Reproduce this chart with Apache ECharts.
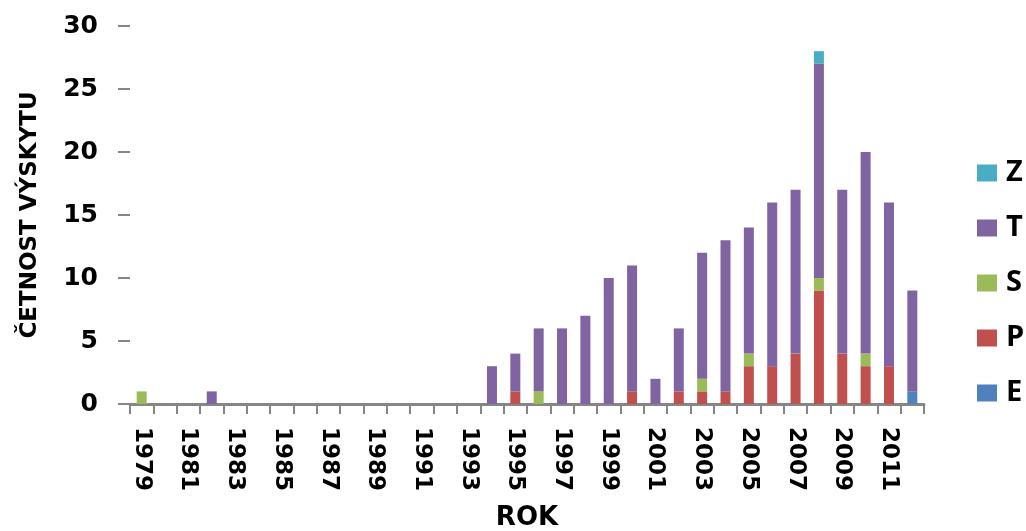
<!DOCTYPE html>
<html>
<head>
<meta charset="utf-8">
<script src="https://cdn.jsdelivr.net/npm/echarts@6/dist/echarts.min.js"></script>
<style>
  html, body { margin: 0; padding: 0; background: #fff; overflow: hidden; }
  #chart { width: 1026px; height: 531px; }
</style>
</head>
<body>
<div id="chart"></div>
<script>
// Years 1979–2012
const years = [
  '1979','1980','1981','1982','1983','1984','1985','1986','1987','1988',
  '1989','1990','1991','1992','1993','1994','1995','1996','1997','1998',
  '1999','2000','2001','2002','2003','2004','2005','2006','2007','2008',
  '2009','2010','2011','2012'
];

// Counts per category, stacked bottom to top: E, P, S, T, Z
const valuesE = [0,0,0,0,0,0,0,0,0,0, 0,0,0,0,0,0,0,0,0,0, 0,0,0,0,0,0,0,0,0,0, 0,0,0,1];
const valuesP = [0,0,0,0,0,0,0,0,0,0, 0,0,0,0,0,0,1,0,0,0, 0,1,0,1,1,1,3,3,4,9, 4,3,3,0];
const valuesS = [1,0,0,0,0,0,0,0,0,0, 0,0,0,0,0,0,0,1,0,0, 0,0,0,0,1,0,1,0,0,1, 0,1,0,0];
const valuesT = [0,0,0,1,0,0,0,0,0,0, 0,0,0,0,0,3,3,5,6,7, 10,10,2,5,10,12,10,13,13,17, 13,16,13,8];
const valuesZ = [0,0,0,0,0,0,0,0,0,0, 0,0,0,0,0,0,0,0,0,0, 0,0,0,0,0,0,0,0,0,1, 0,0,0,0];

const legendOrder = ['Z', 'T', 'S', 'P', 'E'];
const yTicks = { min: 0, max: 30, interval: 5 };

const colors = { E: '#4F81BD', P: '#C0504D', S: '#9BBB59', T: '#8064A2', Z: '#4BACC6' };
const seriesData = { E: valuesE, P: valuesP, S: valuesS, T: valuesT, Z: valuesZ };

const chart = echarts.init(document.getElementById('chart'), null, { renderer: 'canvas' });

const font = 'DejaVu Sans';
const axisGray = '#868686';

chart.setOption({
  animation: false,
  backgroundColor: '#ffffff',
  grid: {
    left: 130, right: 102, top: 26, bottom: 127,
    containLabel: false,
    outerBoundsMode: 'none'
  },
  legend: {
    orient: 'vertical',
    left: 972,
    top: 153,
    itemWidth: 20,
    itemHeight: 17,
    itemGap: 25,
    itemStyle: { borderWidth: 0 },
    icon: 'rect',
    data: legendOrder,
    textStyle: {
      fontFamily: 'Open Sans',
      fontWeight: 'bold',
      fontSize: 29,
      lineHeight: 30,
      color: '#000',
      padding: [0, 0, 0, 4]
    }
  },
  xAxis: {
    type: 'category',
    data: years,
    boundaryGap: true,
    name: 'ROK',
    nameLocation: 'middle',
    nameGap: 101,
    nameMoveOverlap: false,
    nameTextStyle: { fontFamily: font, fontWeight: 'bold', fontSize: 26, color: '#000' },
    axisLine: { show: true, lineStyle: { color: axisGray, width: 3 } },
    axisTick: { show: true, interval: 0, length: 10, lineStyle: { color: axisGray, width: 2 } },
    axisLabel: {
      interval: 1,
      rotate: -90,
      margin: 23,
      fontFamily: font,
      fontWeight: 'bold',
      fontSize: 23,
      color: '#000'
    },
    splitLine: { show: false }
  },
  yAxis: {
    type: 'value',
    min: yTicks.min,
    max: yTicks.max,
    interval: yTicks.interval,
    name: 'ČETNOST VÝSKYTU',
    nameLocation: 'middle',
    nameRotate: 90,
    nameGap: 88,
    nameMoveOverlap: false,
    nameTextStyle: { fontFamily: font, fontWeight: 'bold', fontSize: 23, color: '#000' },
    axisLine: { show: false },
    axisTick: { show: true, length: 12, lineStyle: { color: axisGray, width: 2 } },
    axisLabel: {
      margin: 32,
      fontFamily: font,
      fontWeight: 'bold',
      fontSize: 25,
      color: '#000'
    },
    splitLine: { show: false }
  },
  series: ['E', 'P', 'S', 'T', 'Z'].map(function (key) {
    return {
      name: key,
      type: 'bar',
      stack: 'total',
      barWidth: 10,
      data: seriesData[key],
      itemStyle: { color: colors[key] },
      emphasis: { disabled: true }
    };
  })
});
</script>
</body>
</html>
